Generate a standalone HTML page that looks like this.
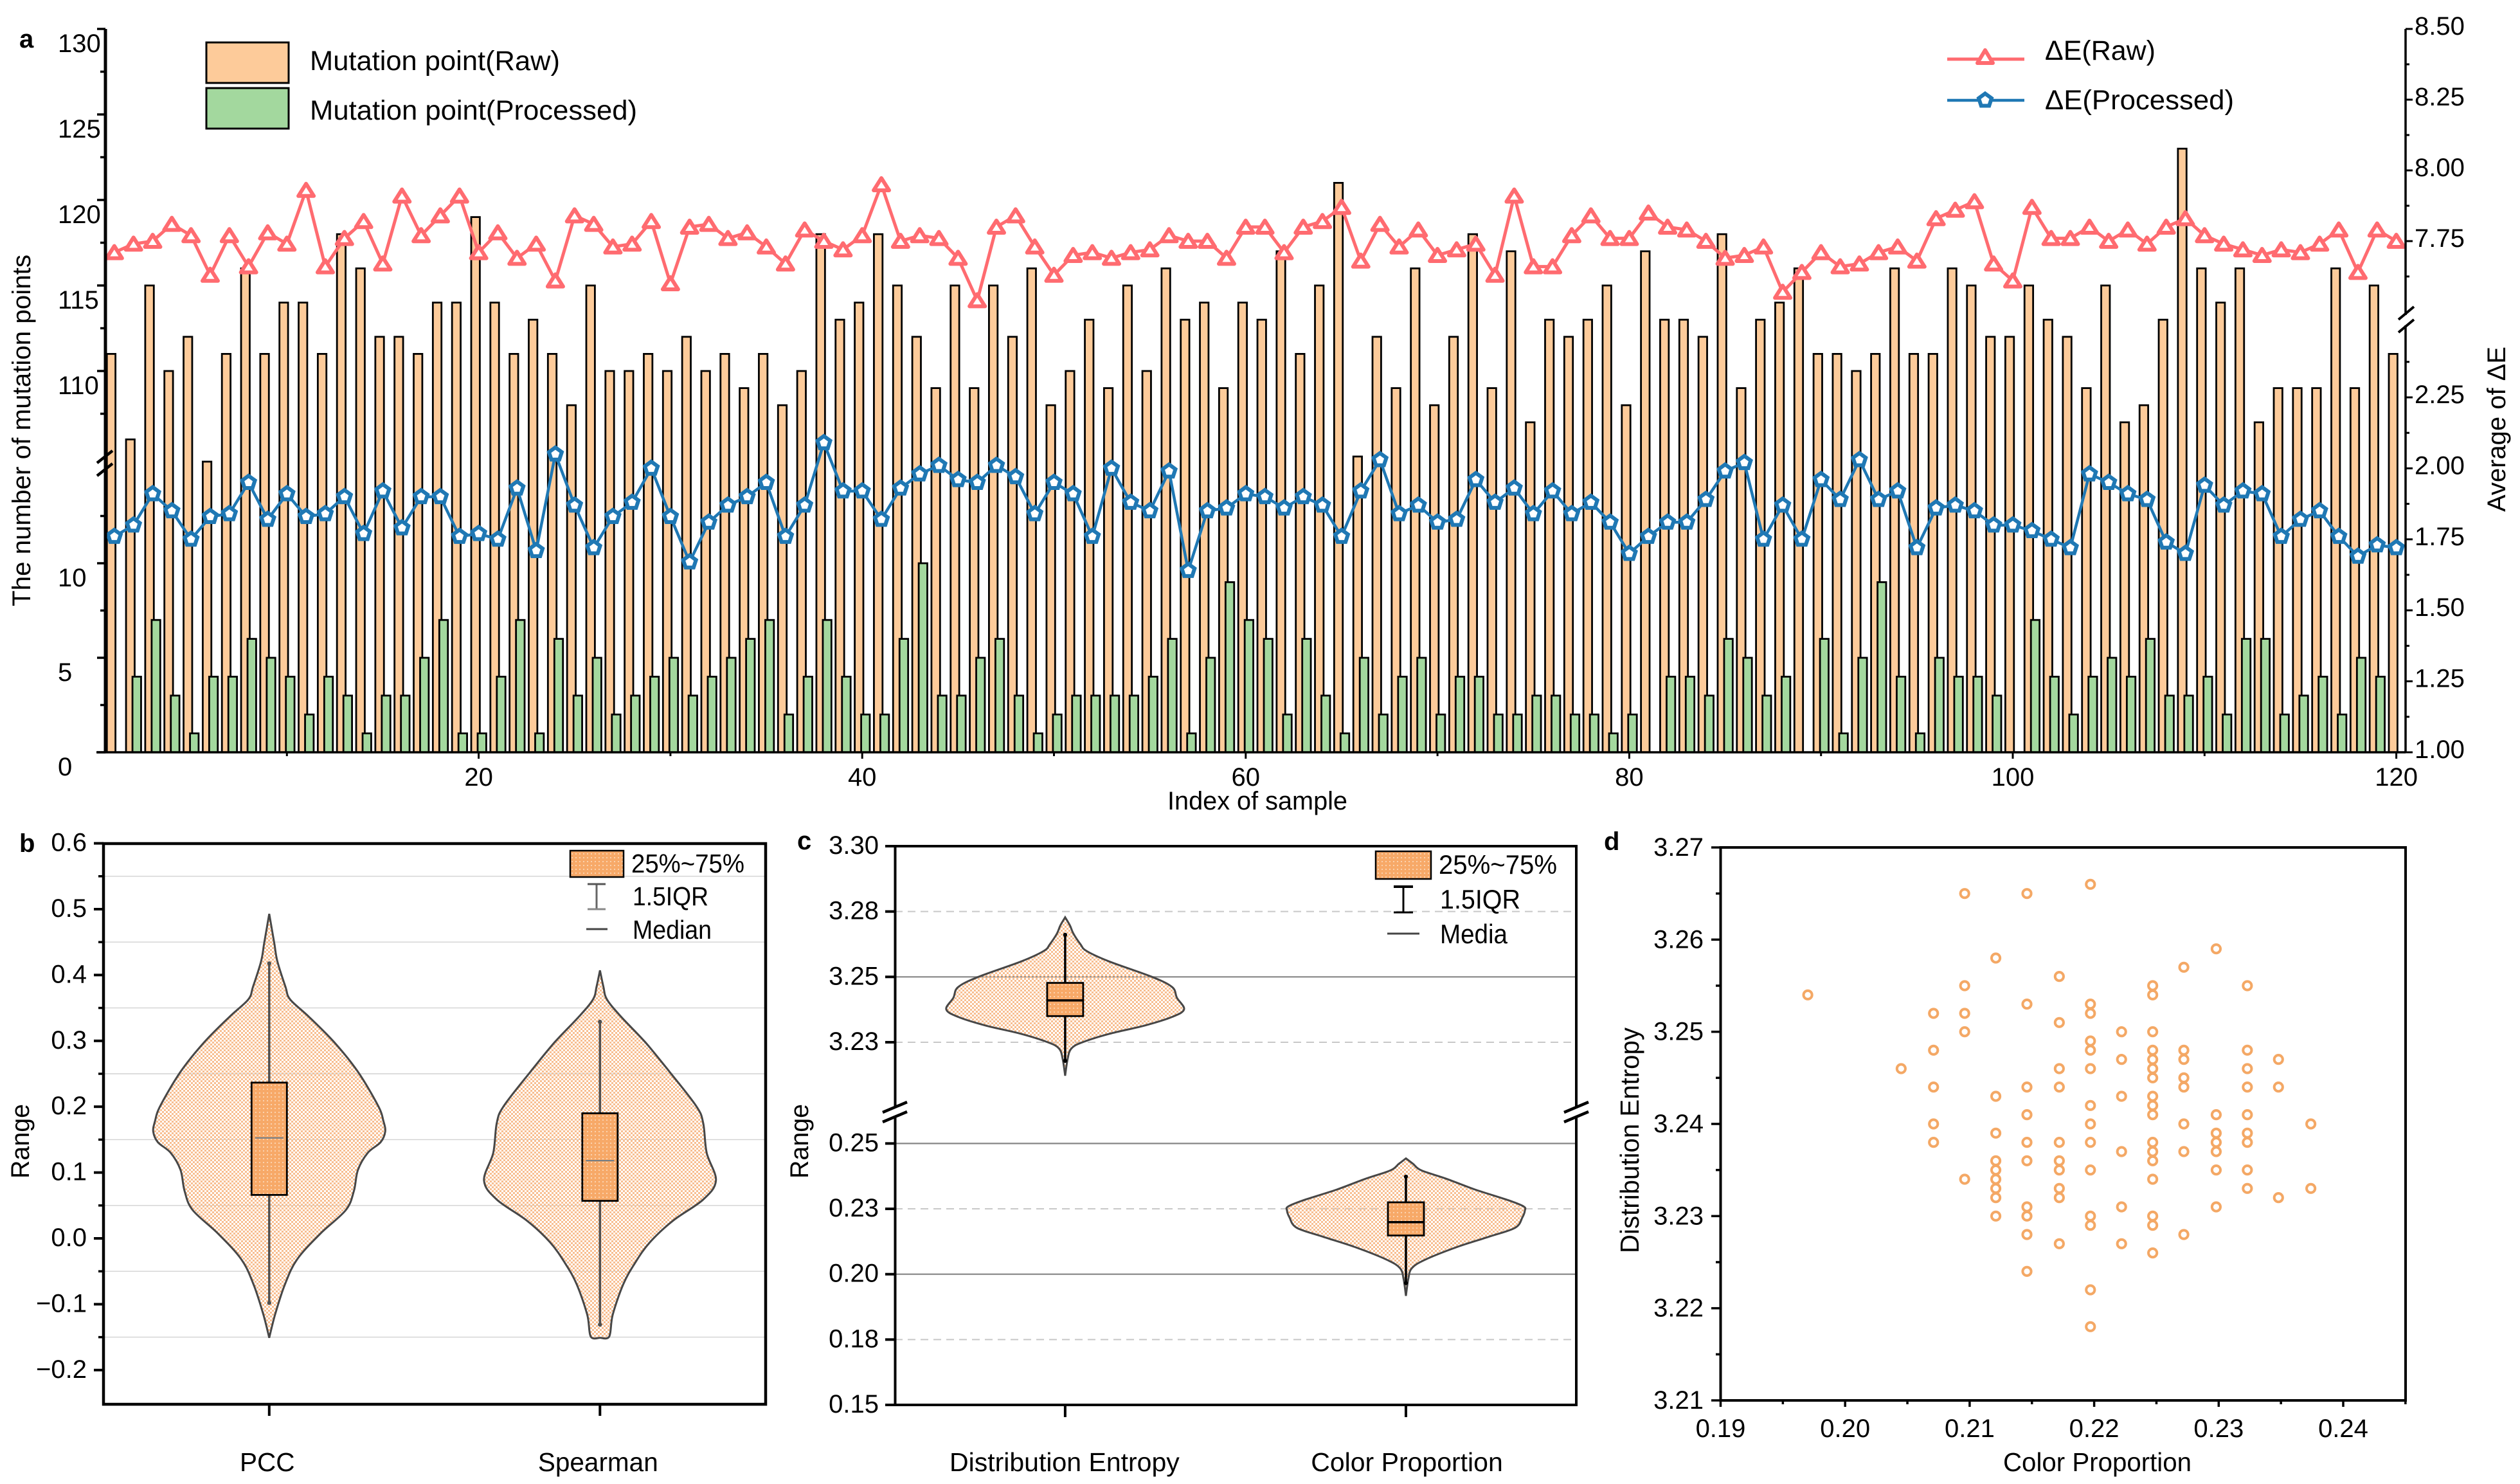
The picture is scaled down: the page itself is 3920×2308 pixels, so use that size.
<!DOCTYPE html>
<html lang="en">
<head>
<meta charset="utf-8">
<title>Mutation points and colour metrics</title>
<style>
html,body{margin:0;padding:0;background:#fff;}
svg{display:block;font-family:"Liberation Sans",Arial,sans-serif;fill:#000;}
text{fill:#000;}
</style>
</head>
<body>
<svg id="figure" width="3920" height="2308" viewBox="0 0 3920 2308">
<defs>
  <pattern id="violin-mesh" width="6" height="6" patternUnits="userSpaceOnUse">
    <rect x="0" y="0" width="3" height="3" fill="#F8BE90"/>
    <rect x="3" y="3" width="3" height="3" fill="#F8BE90"/>
  </pattern>
  <pattern id="box-mesh" width="6" height="6" patternUnits="userSpaceOnUse">
    <rect x="0" y="0" width="6" height="6" fill="#F7A968"/>
    <rect x="1" y="1" width="2" height="2" fill="#FBD2AE"/>
  </pattern>
</defs>
<rect width="3920" height="2308" fill="#fff"/>

<g id="panel-a">
  <g id="a-plot"></g>
  <line x1="164" y1="45" x2="164" y2="1170" stroke="#000" stroke-width="5"/>
  <line x1="3742" y1="45" x2="3742" y2="490" stroke="#000" stroke-width="3.5"/>
  <line x1="3742" y1="506" x2="3742" y2="1170" stroke="#000" stroke-width="3.5"/>
  <line x1="150" y1="1170" x2="3742" y2="1170" stroke="#000" stroke-width="3.5"/>
  <g id="a-ticks"></g>
  <line x1="151" y1="720" x2="175" y2="701" stroke="#000" stroke-width="4.5"/>
  <line x1="151" y1="740" x2="175" y2="721" stroke="#000" stroke-width="4.5"/>
  <line x1="3731" y1="497" x2="3755" y2="477" stroke="#000" stroke-width="4"/>
  <line x1="3731" y1="517" x2="3755" y2="497" stroke="#000" stroke-width="4"/>
  <text x="30" y="74" font-size="40" font-weight="700">a</text>
  <text transform="translate(47,669.5) rotate(-90)" text-anchor="middle" font-size="40.3" textLength="547" lengthAdjust="spacingAndGlyphs">The number of mutation points</text>
  <text transform="translate(3897,667.5) rotate(-90)" text-anchor="middle" font-size="40" textLength="257" lengthAdjust="spacingAndGlyphs">Average of ΔE</text>
  <text x="1956" y="1259" text-anchor="middle" font-size="40" textLength="280" lengthAdjust="spacingAndGlyphs">Index of sample</text>
  <g>
    <rect x="321" y="66" width="128" height="63" fill="#FDCB9A" stroke="#000" stroke-width="3"/>
    <rect x="321" y="137" width="128" height="63" fill="#A3D89E" stroke="#000" stroke-width="3"/>
    <text x="482" y="109" font-size="43" textLength="389" lengthAdjust="spacingAndGlyphs">Mutation point(Raw)</text>
    <text x="482" y="186" font-size="43" textLength="509" lengthAdjust="spacingAndGlyphs">Mutation point(Processed)</text>
  </g>
  <g>
    <line x1="3029" y1="92" x2="3149" y2="92" stroke="#FF6B70" stroke-width="5"/>
    <polygon points="3088,78 3076,98 3100,98" fill="#fff" stroke="#FF6B70" stroke-width="6" stroke-linejoin="round"/>
    <line x1="3029" y1="156" x2="3149" y2="156" stroke="#1F78B4" stroke-width="4.5"/>
    <polygon points="3088,145.5 3098,152.8 3094.2,164.5 3081.8,164.5 3078,152.8" fill="#fff" stroke="#1F78B4" stroke-width="6"/>
    <text x="3181" y="93" font-size="43" textLength="172" lengthAdjust="spacingAndGlyphs">ΔE(Raw)</text>
    <text x="3181" y="170" font-size="43" textLength="294" lengthAdjust="spacingAndGlyphs">ΔE(Processed)</text>
  </g>
</g>

<g id="panel-b">
  <g id="b-plot"></g>
  <rect x="161" y="1312" width="1030" height="872" fill="none" stroke="#000" stroke-width="4.5"/>
  <g id="b-ticks"></g>
  <text x="30" y="1325" font-size="40" font-weight="700">b</text>
  <text transform="translate(45,1775) rotate(-90)" text-anchor="middle" font-size="40" textLength="116" lengthAdjust="spacingAndGlyphs">Range</text>
  <g>
    <rect x="878" y="1430" width="287" height="34" fill="#fff"/>
    <rect x="887" y="1323" width="83" height="41" fill="url(#box-mesh)" stroke="#000" stroke-width="2.5"/>
    <line x1="928" y1="1374" x2="928" y2="1414" stroke="#666" stroke-width="3"/>
    <line x1="914" y1="1375" x2="942" y2="1375" stroke="#555" stroke-width="3"/>
    <line x1="914" y1="1414" x2="942" y2="1414" stroke="#888" stroke-width="3"/>
    <line x1="912" y1="1445" x2="945" y2="1445" stroke="#444" stroke-width="3"/>
    <text x="982" y="1357" font-size="41" textLength="176" lengthAdjust="spacingAndGlyphs">25%~75%</text>
    <text x="984" y="1408" font-size="41" textLength="118" lengthAdjust="spacingAndGlyphs">1.5IQR</text>
    <text x="984" y="1460" font-size="41" textLength="123" lengthAdjust="spacingAndGlyphs">Median</text>
  </g>
</g>

<g id="panel-c">
  <g id="c-plot"></g>
  <line x1="1390" y1="1316" x2="2454" y2="1316" stroke="#000" stroke-width="4"/>
  <line x1="1390" y1="2185" x2="2454" y2="2185" stroke="#000" stroke-width="4"/>
  <line x1="1392.5" y1="1316" x2="1392.5" y2="1722" stroke="#000" stroke-width="4"/>
  <line x1="1392.5" y1="1737" x2="1392.5" y2="2185" stroke="#000" stroke-width="4"/>
  <line x1="2452" y1="1316" x2="2452" y2="1722" stroke="#000" stroke-width="4"/>
  <line x1="2452" y1="1737" x2="2452" y2="2185" stroke="#000" stroke-width="4"/>
  <line x1="1373" y1="1730" x2="1411" y2="1714" stroke="#000" stroke-width="4.5"/>
  <line x1="1373" y1="1745" x2="1411" y2="1729" stroke="#000" stroke-width="4.5"/>
  <line x1="2433" y1="1730" x2="2471" y2="1714" stroke="#000" stroke-width="4.5"/>
  <line x1="2433" y1="1745" x2="2471" y2="1729" stroke="#000" stroke-width="4.5"/>
  <g id="c-ticks"></g>
  <text x="1240" y="1321" font-size="40" font-weight="700">c</text>
  <text transform="translate(1257,1775) rotate(-90)" text-anchor="middle" font-size="40" textLength="116" lengthAdjust="spacingAndGlyphs">Range</text>
  <g>
    <rect x="2140" y="1324" width="86" height="43" fill="url(#box-mesh)" stroke="#000" stroke-width="2.5"/>
    <line x1="2183" y1="1378" x2="2183" y2="1420" stroke="#000" stroke-width="3"/>
    <line x1="2168" y1="1379" x2="2198" y2="1379" stroke="#000" stroke-width="4"/>
    <line x1="2168" y1="1419" x2="2198" y2="1419" stroke="#000" stroke-width="3"/>
    <line x1="2158" y1="1452" x2="2208" y2="1452" stroke="#444" stroke-width="3"/>
    <text x="2238" y="1359" font-size="42" textLength="184" lengthAdjust="spacingAndGlyphs">25%~75%</text>
    <text x="2240" y="1413" font-size="42" textLength="125" lengthAdjust="spacingAndGlyphs">1.5IQR</text>
    <text x="2240" y="1467" font-size="42" textLength="105" lengthAdjust="spacingAndGlyphs">Media</text>
  </g>
</g>

<g id="panel-d">
  <g id="d-plot"></g>
  <rect x="2676.5" y="1318" width="1065.5" height="860" fill="none" stroke="#000" stroke-width="4"/>
  <g id="d-ticks"></g>
  <text x="2495" y="1322" font-size="40" font-weight="700">d</text>
  <text transform="translate(2549,1773.5) rotate(-90)" text-anchor="middle" font-size="41" textLength="351" lengthAdjust="spacingAndGlyphs">Distribution Entropy</text>
  <text x="3262.5" y="2288" text-anchor="middle" font-size="41" textLength="293" lengthAdjust="spacingAndGlyphs">Color Proportion</text>
</g>
</svg>

<script>
// ---------- Panel a data ----------
const sampleIndex = Array.from({length: 120}, (_, k) => k + 1);
const rawMutation = [
111,106,115,110,112,104.7,111,116,111,114,
114,111,118,116,112,112,111,114,114,119,
114,111,113,111,108,115,110,110,111,110,
112,110,111,109,111,108,110,118,113,114,
118,115,112,109,115,109,115,112,116,108,
110,113,109,115,110,116,113,114,109,114,
113,117,111,115,121,105,112,109,116,108,
112,118,109,117,107,113,112,113,115,108,
117,113,113,112,118,109,113,114,116,111,
111,110,111,116,111,111,116,115,112,112,
115,113,112,109,115,107,108,113,123,116,
114,116,107,109,109,109,116,109,115,111];
const processedMutation = [
0,4,7,3,1,4,4,6,5,4,
2,4,3,1,3,3,5,7,1,1,
4,7,1,6,3,5,2,3,4,5,
3,4,5,6,7,2,4,7,4,2,
2,6,10,3,3,5,6,3,1,2,
3,3,3,3,4,6,1,5,9,7,
6,2,6,3,1,5,2,4,5,2,
4,4,2,2,3,3,2,2,1,2,
0,4,4,3,6,5,3,4,0,6,
1,5,9,4,1,5,4,4,3,0,
7,4,2,4,5,4,6,3,3,4,
2,6,6,2,3,4,2,5,4,0];
const deltaERaw = [
7.71,7.74,7.75,7.81,7.77,7.63,7.77,7.66,7.78,7.74,
7.93,7.66,7.76,7.82,7.67,7.91,7.77,7.84,7.91,7.71,
7.78,7.69,7.74,7.61,7.84,7.81,7.73,7.74,7.82,7.60,
7.80,7.81,7.76,7.78,7.73,7.67,7.79,7.75,7.72,7.77,
7.95,7.75,7.77,7.76,7.69,7.54,7.80,7.84,7.73,7.63,
7.70,7.71,7.69,7.71,7.72,7.77,7.75,7.75,7.69,7.80,
7.80,7.71,7.80,7.82,7.87,7.68,7.81,7.73,7.79,7.70,
7.72,7.74,7.63,7.91,7.66,7.66,7.77,7.84,7.76,7.76,
7.85,7.80,7.79,7.75,7.69,7.70,7.73,7.57,7.64,7.71,
7.66,7.67,7.71,7.73,7.68,7.83,7.86,7.89,7.67,7.61,
7.87,7.76,7.76,7.80,7.75,7.79,7.74,7.80,7.83,7.77,
7.74,7.72,7.70,7.72,7.71,7.74,7.79,7.64,7.79,7.75];
const deltaEProcessed = [
1.76,1.80,1.91,1.85,1.75,1.83,1.84,1.95,1.82,1.91,
1.83,1.84,1.90,1.77,1.92,1.79,1.90,1.90,1.76,1.77,
1.75,1.93,1.71,2.05,1.87,1.72,1.83,1.88,2.00,1.83,
1.67,1.81,1.87,1.90,1.95,1.76,1.87,2.09,1.92,1.92,
1.82,1.93,1.98,2.01,1.96,1.95,2.01,1.97,1.84,1.95,
1.91,1.76,2.00,1.88,1.85,1.99,1.64,1.85,1.86,1.91,
1.90,1.86,1.90,1.87,1.76,1.92,2.03,1.84,1.87,1.81,
1.82,1.96,1.88,1.93,1.84,1.92,1.84,1.88,1.81,1.70,
1.76,1.81,1.81,1.89,1.99,2.02,1.75,1.87,1.75,1.96,
1.89,2.03,1.89,1.92,1.72,1.86,1.87,1.85,1.80,1.80,
1.78,1.75,1.72,1.98,1.95,1.91,1.89,1.74,1.70,1.94,
1.87,1.92,1.91,1.76,1.82,1.85,1.76,1.69,1.73,1.72];
const aLeftMajorTicks = [0,5,10,110,115,120,125,130];
const aLeftMinorTicks = [2.5,7.5,12.5,107.5,112.5,117.5,122.5,127.5];
const aRightMajorTicks = ["1.00","1.25","1.50","1.75","2.00","2.25","7.75","8.00","8.25","8.50"];
const aRightMinorTicks = [1.125,1.375,1.625,1.875,2.125,2.375,7.625,7.875,8.125,8.375];
const aXMajorTicks = [20,40,60,80,100,120];
const aXMinorTicks = [10,30,50,70,90,110];

// ---------- Panel b data ----------
const bCategories = ["PCC","Spearman"];
const bMajorTicks = ["0.6","0.5","0.4","0.3","0.2","0.1","0.0","−0.1","−0.2"];
const bGridValues = [0.55,0.45,0.35,0.25,0.15,0.05,-0.05,-0.15];
const pccLevels = [.493,.4725,.447,.421,.382,.363,.337,.298,.253,.201,.178,.162,.146,.13,.104,.072,.043,.007,-.032,-.07,-.116,-.151];
const pccDensity = [0,.02,.045,.07,.14,.18,.34,.56,.765,.94,.985,1,.96,.85,.765,.73,.66,.44,.24,.135,.05,0];
const pccBox = [-.098,.066,.1526,.2366,.4176];
const spearmanLevels = [.407,.382,.363,.337,.298,.253,.201,.175,.13,.088,.059,.027,-.006,-.038,-.07,-.116,-.149,-.151];
const spearmanDensity = [0,.03,.06,.18,.39,.6,.83,.89,.92,1,.89,.63,.43,.30,.20,.11,.08,0];
const spearmanBox = [-.131,.057,.118,.19,.329];

// ---------- Panel c data ----------
const cCategories = ["Distribution Entropy","Color Proportion"];
const cTickValues = [3.3,3.275,3.25,3.225,.25,.225,.2,.175,.15];
const cTickLabels = ["3.30","3.28","3.25","3.23","0.25","0.23","0.20","0.18","0.15"];
const cSolidGrid = [3.25,.25,.2];
const cDashedGrid = [3.275,3.225,.225,.175];
const entropyLevels = [3.2728,3.2697,3.2665,3.2624,3.2599,3.2559,3.25,3.2461,3.242,3.2376,3.2347,3.2314,3.2282,3.2249,3.2225,3.2184,3.2122];
const entropyDensity = [0,.04,.07,.13,.18,.37,.73,.90,.94,1,.90,.67,.37,.14,.05,.02,0];
const entropyBox = [3.2179,3.235,3.241,3.2477,3.2661];
const colorLevels = [.2443,.2422,.2397,.2365,.2324,.2283,.2259,.2243,.2218,.2178,.2145,.2104,.2055,.2023,.1982,.1917];
const colorDensity = [0,.06,.13,.34,.58,.86,.99,1,.98,.92,.71,.43,.16,.05,.02,0];
const colorBox = [.1966,.2148,.2199,.2275,.2373];

// ---------- Panel d data ----------
const dXTicks = ["0.19","0.20","0.21","0.22","0.23","0.24"];
const dXMinorTicks = [.195,.205,.215,.225,.235,.245];
const dYTicks = ["3.27","3.26","3.25","3.24","3.23","3.22","3.21"];
const dYMinorTicks = [3.265,3.255,3.245,3.235,3.225,3.215];
const colorProportionLevels = [.197,.2045,.2071,.2096,.2121,.2146,.2172,.2197,.2222,.2247,.2272,.2298,.2323,.2348,.2374];
const entropyAtLevel = [
[3.254],
[3.246],
[3.252,3.248,3.244,3.240,3.238],
[3.265,3.255,3.252,3.250,3.234],
[3.258,3.243,3.239,3.236,3.235,3.234,3.233,3.232,3.230],
[3.265,3.253,3.244,3.241,3.238,3.236,3.231,3.230,3.228,3.224],
[3.256,3.251,3.246,3.244,3.238,3.236,3.235,3.233,3.232,3.227],
[3.266,3.253,3.252,3.249,3.248,3.246,3.242,3.240,3.238,3.235,3.230,3.229,3.222,3.218],
[3.250,3.247,3.243,3.237,3.231,3.227],
[3.255,3.254,3.250,3.248,3.247,3.246,3.245,3.243,3.242,3.241,3.238,3.237,3.236,3.234,3.230,3.229,3.226],
[3.257,3.248,3.247,3.245,3.244,3.240,3.237,3.228],
[3.259,3.241,3.239,3.238,3.237,3.235,3.231],
[3.255,3.248,3.246,3.244,3.241,3.239,3.238,3.235,3.233],
[3.247,3.244,3.232],
[3.240,3.233]];

// ---------- Helpers ----------
const root = document.getElementById('figure');
const NS = root.namespaceURI;
function mk(parent, tag, attrs, text) {
  const el = document.createElementNS(NS, tag);
  for (const k in attrs) el.setAttribute(k, attrs[k]);
  if (text !== undefined) el.textContent = text;
  parent.appendChild(el);
  return el;
}
function line(parent, name, x1, y1, x2, y2, color, width, dash) {
  const attrs = {x1: x1, y1: y1, x2: x2, y2: y2, stroke: color, 'stroke-width': width};
  if (dash) attrs['stroke-dasharray'] = dash;
  const el = mk(parent, 'line', attrs);
  
  
  return el;
}
function label(parent, name, x, y, anchor, str, size) {
  const el = mk(parent, 'text', {x: x, y: y, 'text-anchor': anchor, 'font-size': size || 40}, str);
  
  
  return el;
}
function crSegments(pts) {
  let d = '';
  for (let i = 0; i < pts.length - 1; i++) {
    const p0 = pts[Math.max(i - 1, 0)], p1 = pts[i], p2 = pts[i + 1], p3 = pts[Math.min(i + 2, pts.length - 1)];
    d += 'C' + (p1[0] + (p2[0] - p0[0]) / 6).toFixed(1) + ' ' + (p1[1] + (p2[1] - p0[1]) / 6).toFixed(1) + ' '
       + (p2[0] - (p3[0] - p1[0]) / 6).toFixed(1) + ' ' + (p2[1] - (p3[1] - p1[1]) / 6).toFixed(1) + ' '
       + p2[0].toFixed(1) + ' ' + p2[1].toFixed(1);
  }
  return d;
}
function drawViolin(parent, name, cx, halfMax, yFn, levels, density) {
  const right = levels.map((v, i) => [cx + density[i] * halfMax, yFn(v)]);
  const left = levels.map((v, i) => [cx - density[i] * halfMax, yFn(v)]).reverse();
  const d = 'M' + right[0][0].toFixed(1) + ' ' + right[0][1].toFixed(1) + crSegments(right) + crSegments(left) + 'Z';
  const el = mk(parent, 'path', {d: d, fill: 'url(#violin-mesh)', stroke: '#474747', 'stroke-width': 3});
  
  
}
function drawBox(parent, name, cx, halfW, yFn, stats, whiskerColor, medianColor, medianWidth, medianHalf) {
  line(parent, name + '-whisker', cx, yFn(stats[4]), cx, yFn(stats[0]), whiskerColor, 3.5);
  [stats[0], stats[4]].forEach((v, k) => {
    const dot = mk(parent, 'circle', {cx: cx, cy: yFn(v), r: 3.2, fill: whiskerColor});
    
    
  });
  const box = mk(parent, 'rect', {x: cx - halfW, y: yFn(stats[3]), width: 2 * halfW, height: yFn(stats[1]) - yFn(stats[3]), fill: 'url(#box-mesh)', stroke: '#000', 'stroke-width': 2.8});
  
  
  line(parent, name + '-median', cx - medianHalf, yFn(stats[2]), cx + medianHalf, yFn(stats[2]), medianColor, medianWidth);
}

// ---------- Panel a ----------
const aPlot = document.getElementById('a-plot');
const aTicks = document.getElementById('a-ticks');
const xA = i => 744.6 + (i - 20) * 29.83;
const yLeft = v => v <= 15 ? 1170 - v * 29.4 : 577 - (v - 110) * 26.6;
const yRight = v => v <= 2.5 ? 1170 - (v - 1) * 441.6 : 45 + (8.5 - v) * 440;

sampleIndex.forEach((idx, k) => {
  const bar = mk(aPlot, 'rect', {x: xA(idx) - 11.6, y: yLeft(rawMutation[k]), width: 13.4, height: 1170 - yLeft(rawMutation[k]), fill: '#FDCB9A', stroke: '#000', 'stroke-width': 2.8});
  
  
});
sampleIndex.forEach((idx, k) => {
  if (processedMutation[k] <= 0) return;
  const bar = mk(aPlot, 'rect', {x: xA(idx) - 1.6, y: yLeft(processedMutation[k]), width: 13.4, height: 1170 - yLeft(processedMutation[k]), fill: '#A3D89E', stroke: '#000', 'stroke-width': 2.8});
  
  
});
const rawPath = mk(aPlot, 'polyline', {points: sampleIndex.map((idx, k) => xA(idx).toFixed(1) + ',' + yRight(deltaERaw[k]).toFixed(1)).join(' '), fill: 'none', stroke: '#FF6B70', 'stroke-width': 5});


const procPath = mk(aPlot, 'polyline', {points: sampleIndex.map((idx, k) => xA(idx).toFixed(1) + ',' + yRight(deltaEProcessed[k]).toFixed(1)).join(' '), fill: 'none', stroke: '#1F78B4', 'stroke-width': 4.5});


sampleIndex.forEach((idx, k) => {
  const cx = xA(idx), cy = yRight(deltaERaw[k]);
  const tri = mk(aPlot, 'polygon', {points: [[cx, cy - 10], [cx - 12, cy + 9], [cx + 12, cy + 9]].map(p => p.join(',')).join(' '), fill: '#fff', stroke: '#FF6B70', 'stroke-width': 6, 'stroke-linejoin': 'round'});
  
  
});
sampleIndex.forEach((idx, k) => {
  const cx = xA(idx), cy = yRight(deltaEProcessed[k]);
  const pts = [];
  for (let j = 0; j < 5; j++) {
    const a = -Math.PI / 2 + j * 2 * Math.PI / 5;
    pts.push((cx + 10.5 * Math.cos(a)).toFixed(1) + ',' + (cy + 10.5 * Math.sin(a)).toFixed(1));
  }
  const pent = mk(aPlot, 'polygon', {points: pts.join(' '), fill: '#fff', stroke: '#1F78B4', 'stroke-width': 6});
  
  
});
aLeftMajorTicks.forEach(v => {
  line(aTicks, 'a-left-major-tick-' + v, 151, yLeft(v), 164, yLeft(v), '#000', 3.5);
  label(aTicks, 'a-left-tick-label-' + v, 90, yLeft(v) + 36, 'start', String(v));
});
aLeftMinorTicks.forEach(v => line(aTicks, 'a-left-minor-tick-' + v, 156, yLeft(v), 164, yLeft(v), '#000', 3.5));
aRightMajorTicks.forEach(s => {
  const v = parseFloat(s);
  line(aTicks, 'a-right-major-tick-' + s, 3742, yRight(v), 3753, yRight(v), '#000', 3);
  label(aTicks, 'a-right-tick-label-' + s, 3756, yRight(v) + 9, 'start', s);
});
aRightMinorTicks.forEach(v => line(aTicks, 'a-right-minor-tick-' + v, 3742, yRight(v), 3748, yRight(v), '#000', 3));
aXMajorTicks.forEach(v => {
  line(aTicks, 'a-x-major-tick-' + v, xA(v), 1170, xA(v), 1180, '#000', 3);
  label(aTicks, 'a-x-tick-label-' + v, xA(v), 1222, 'middle', String(v));
});
aXMinorTicks.forEach(v => line(aTicks, 'a-x-minor-tick-' + v, xA(v), 1170, xA(v), 1176, '#000', 3));

// ---------- Panel b ----------
const bPlot = document.getElementById('b-plot');
const bTicks = document.getElementById('b-ticks');
const yB = v => 1926 - v * 1024;
const xB = i => 418.8 + i * 514.5;
bGridValues.forEach(v => {
  line(bPlot, 'b-gridline-' + v, 161, yB(v), 1191, yB(v), '#d2d2d2', 1.4);
  line(bTicks, 'b-minor-tick-' + v, 153, yB(v), 161, yB(v), '#000', 3.5);
});
drawViolin(bPlot, 'violin-pcc', xB(0), 180.4, yB, pccLevels, pccDensity);
drawViolin(bPlot, 'violin-spearman', xB(1), 180.4, yB, spearmanLevels, spearmanDensity);
drawBox(bPlot, 'pcc', xB(0), 27.5, yB, pccBox, '#505050', '#6b7b88', 2, 22);
drawBox(bPlot, 'spearman', xB(1), 27.5, yB, spearmanBox, '#505050', '#6b7b88', 2, 22);
bMajorTicks.forEach(s => {
  const v = parseFloat(s.replace('−', '-'));
  line(bTicks, 'b-major-tick-' + s, 146, yB(v), 161, yB(v), '#000', 4);
  label(bTicks, 'b-tick-label-' + s, 135, yB(v) + 12, 'end', s);
});
bCategories.forEach((c, i) => {
  line(bTicks, 'b-x-tick-' + c, xB(i), 2184, xB(i), 2202, '#000', 4);
  label(bTicks, 'b-x-label-' + c, xB(i) - 3, 2288, 'middle', c, 40.5);
});

// ---------- Panel c ----------
const cPlot = document.getElementById('c-plot');
const cTicks = document.getElementById('c-ticks');
const yC = v => v > 3 ? 1316 + (3.3 - v) * 4066 : 2185 - (v - .15) * 4066;
const xC = i => 1656.9 + i * 530.1;
cSolidGrid.forEach(v => line(cPlot, 'c-solid-gridline-' + v, 1392, yC(v), 2452, yC(v), '#858585', 2.2));
cDashedGrid.forEach(v => line(cPlot, 'c-dashed-gridline-' + v, 1392, yC(v), 2452, yC(v), '#c8c8c8', 2, '12 8'));
drawViolin(cPlot, 'violin-distribution-entropy', xC(0), 185, yC, entropyLevels, entropyDensity);
drawViolin(cPlot, 'violin-color-proportion', xC(1), 185, yC, colorLevels, colorDensity);
drawBox(cPlot, 'distribution-entropy', xC(0), 28, yC, entropyBox, '#000', '#000', 3.5, 28);
drawBox(cPlot, 'color-proportion', xC(1), 28, yC, colorBox, '#000', '#000', 3.5, 28);
cTickValues.forEach((v, i) => {
  line(cTicks, 'c-major-tick-' + cTickLabels[i], 1377, yC(v), 1392, yC(v), '#000', 4);
  label(cTicks, 'c-tick-label-' + cTickLabels[i], 1367, yC(v) + 12, 'end', cTickLabels[i]);
});
cCategories.forEach((c, i) => {
  line(cTicks, 'c-x-tick-' + c, xC(i), 2185, xC(i), 2204, '#000', 4);
  label(cTicks, 'c-x-label-' + c, xC(i) + (i ? 1.5 : -1), 2288, 'middle', c, 41);
});

// ---------- Panel d ----------
const dPlot = document.getElementById('d-plot');
const dTicks = document.getElementById('d-ticks');
const xD = v => 2676.5 + (v - .19) * 19370;
const yD = v => 1318 + (3.27 - v) * 14333;
colorProportionLevels.forEach((xv, g) => {
  entropyAtLevel[g].forEach(yv => {
    const pt = mk(dPlot, 'circle', {cx: xD(xv), cy: yD(yv), r: 6.6, fill: 'none', stroke: '#F4A865', 'stroke-width': 4});
    
    
  });
});
dXTicks.forEach(s => {
  const v = parseFloat(s);
  line(dTicks, 'd-x-major-tick-' + s, xD(v), 2178, xD(v), 2188, '#000', 3.5);
  label(dTicks, 'd-x-tick-label-' + s, xD(v), 2235, 'middle', s);
});
dXMinorTicks.forEach(v => line(dTicks, 'd-x-minor-tick-' + v, xD(v), 2178, xD(v), 2184, '#000', 3.5));
dYTicks.forEach(s => {
  const v = parseFloat(s);
  line(dTicks, 'd-y-major-tick-' + s, 2662, yD(v), 2676.5, yD(v), '#000', 3.5);
  label(dTicks, 'd-y-tick-label-' + s, 2650, yD(v) + 13, 'end', s);
});
dYMinorTicks.forEach(v => line(dTicks, 'd-y-minor-tick-' + v, 2669, yD(v), 2676.5, yD(v), '#000', 3.5));
</script>
</body>
</html>
